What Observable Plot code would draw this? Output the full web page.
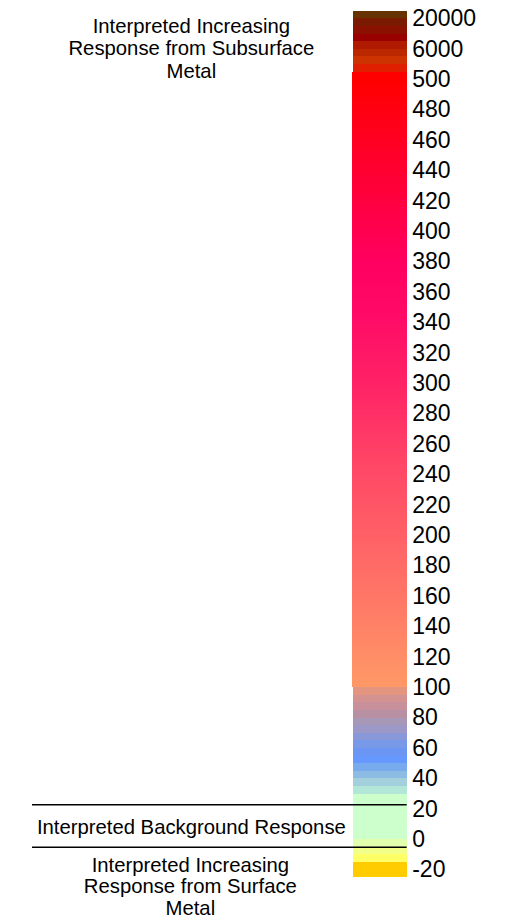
<!DOCTYPE html>
<html>
<head>
<meta charset="utf-8">
<script src="https://cdn.jsdelivr.net/npm/d3@7"></script>
<script src="https://cdn.jsdelivr.net/npm/@observablehq/plot@0.6"></script>
<style>
  html, body { margin: 0; padding: 0; background: #ffffff; }
  #chart { width: 510px; height: 918px; }
</style>
</head>
<body>
<div id="chart"></div>
<script>
// Tick labels shown beside the colour bar (evenly spaced, top to bottom)
const tickValues = [20000, 6000, 500, 480, 460, 440, 420, 400, 380, 360, 340, 320, 300, 280,
  260, 240, 220, 200, 180, 160, 140, 120, 100, 80, 60, 40, 20, 0, -20];

// Upper class bands (value edges, top to bottom) and their colours
const upperEdges = [23500, 20000, 16500, 13000, 9500, 6000, 4625, 3250, 1875];
const upperColors = ["#663300", "#7a1a00", "#8a1000", "#990000", "#b01a00", "#bb2800", "#cc3300", "#e01e00"];

// Continuous gradient section (values and colour stops)
const gradientTop = 1875;
const gradientStops = [500, 470, 430, 380, 350, 300, 250, 200, 150, 100];
const gradientColors = ["#ff0000", "#ff001a", "#ff0038", "#ff0060", "#ff0866", "#ff2266",
  "#ff4466", "#ff6066", "#ff7c66", "#ff9966"];

// Lower class bands (value edges, top to bottom) and their colours
const lowerEdges = [100, 95, 90, 85, 80, 75, 70, 65, 60, 55, 50, 45, 40, 35, 30, 0, -5, -10, -15, -25];
const lowerColors = ["#e4957f", "#d49290", "#c8909a", "#b890a4", "#a898b8", "#9c98c8", "#8898d8",
  "#7898e8", "#6c96f4", "#6699ff", "#78aaee", "#8cbce4", "#a4d0de", "#b2e6d6", "#ccffcc",
  "#e2ffae", "#f2ff88", "#ffff66", "#ffcc00"];

// Interpretation boundaries (values) and texts
const boundaryValues = [23, -5];
const topNote = "Interpreted Increasing\nResponse from Subsurface\nMetal";
const middleNote = "Interpreted Background Response";
const bottomNote = "Interpreted Increasing\nResponse from Surface\nMetal";

// The legend's value axis is piecewise: each labelled value occupies one evenly spaced slot
const slot = d3.scaleLinear()
  .domain([tickValues[0], tickValues[1], tickValues[2], tickValues[tickValues.length - 1]])
  .range([0, 1, 2, tickValues.length - 1]);

// Build band tables
const upperBands = upperColors.map((c, i) => ({y1: upperEdges[i], y2: upperEdges[i + 1], color: c}));
const lowerBands = lowerColors.map((c, i) => ({y1: lowerEdges[i], y2: lowerEdges[i + 1], color: c}));

const gradScale = Plot.scale({color: {type: "linear", domain: gradientStops, range: gradientColors, interpolate: "rgb"}});
const gMax = d3.max(gradientStops), gMin = d3.min(gradientStops);
const gradientBands = [{y1: gradientTop, y2: gMax, color: gradScale.apply(gMax)}];
for (let v = gMax; v > gMin; v -= 1) {
  gradientBands.push({y1: v, y2: v - 1, color: gradScale.apply(v - 0.5)});
}

const labelFor = s => String(Math.round(slot.invert(s)));

const chart = Plot.plot({
  width: 510,
  height: 918,
  marginLeft: 32,
  marginRight: 103.3,
  marginTop: 0,
  marginBottom: 0,
  style: {fontFamily: "'Liberation Sans', Arial, sans-serif", background: "#ffffff", color: "#000000"},
  x: {domain: [0, 1], range: [351.7, 406.7], axis: null},
  y: {domain: [0, tickValues.length - 1], range: [18.4, 869.6]},
  marks: [
    Plot.rect(gradientBands, {x1: () => 0, x2: () => 1, y1: d => slot(d.y1), y2: d => slot(d.y2), fill: "color", shapeRendering: "crispEdges"}),
    Plot.rect(upperBands, {x1: () => 0, x2: () => 1, y1: d => slot(d.y1), y2: d => slot(d.y2), fill: "color", insetLeft: 1, shapeRendering: "crispEdges"}),
    Plot.rect(lowerBands, {x1: () => 0, x2: () => 1, y1: d => slot(d.y1), y2: d => slot(d.y2), fill: "color", insetLeft: 1, shapeRendering: "crispEdges"}),
    Plot.ruleY(boundaryValues, {y: d => slot(d), stroke: "#000000", strokeWidth: 1.4}),
    Plot.axisY(tickValues.map(v => slot(v)), {anchor: "right", tickSize: 0, tickPadding: 5, tickFormat: labelFor, fontSize: 23, fill: "#000000", label: null}),
    Plot.text([topNote], {text: d => d, frameAnchor: "top", lineAnchor: "top", dx: -28.5, dy: 16.3, fontSize: 20.3, lineHeight: 1.11, fill: "#000000"}),
    Plot.text([middleNote], {text: d => d, frameAnchor: "bottom", lineAnchor: "bottom", dx: -28.5, dy: -85, fontSize: 20.3, fill: "#000000"}),
    Plot.text([bottomNote], {text: d => d, frameAnchor: "bottom", lineAnchor: "bottom", dx: -29.5, dy: -4, fontSize: 20.3, lineHeight: 1.05, fill: "#000000"})
  ]
});
document.getElementById("chart").appendChild(chart);
</script>
</body>
</html>
